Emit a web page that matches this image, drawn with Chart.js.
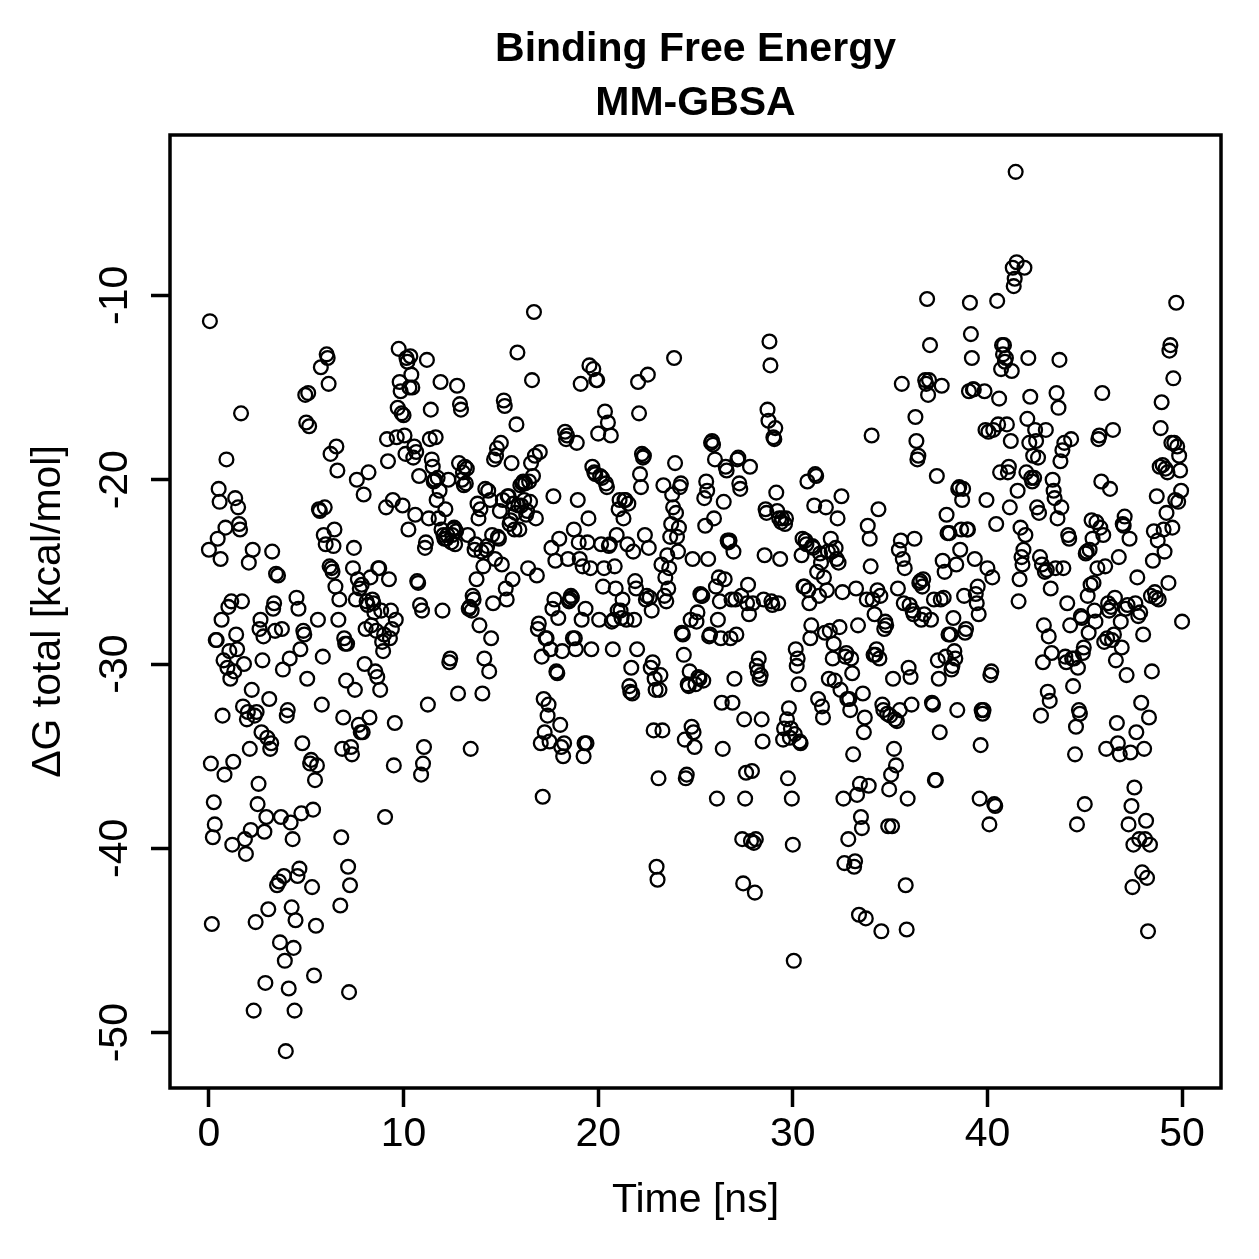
<!DOCTYPE html>
<html>
<head>
<meta charset="utf-8">
<script src="https://cdn.jsdelivr.net/npm/chart.js@4/dist/chart.umd.min.js"></script>
<style>
  body { margin: 0; background: #fff; }
  #wrap { width: 1259px; height: 1259px; }
</style>
</head>
<body>
<div id="wrap"><canvas id="mmgbsa" width="1259" height="1259"></canvas></div>
<script>
// frames are every 0.05 ns, 0 .. 50 ns
var timeStep = 0.05;

// dG total (kcal/mol) per frame (about one line per ns)
var dgTotal = [
	-23.8,-11.4,-35.4,-44.1,-39.4,-37.5,-38.7,-28.7,-28.7,-23.2,-20.5,-21.2,-24.3,-27.6,-32.8,-29.8,-36.0,-22.6,-18.9,-30.2,
	-26.9,-29.3,-30.8,-26.6,-39.8,-35.3,-30.4,-21.0,-28.4,-29.2,-21.5,-22.4,-22.7,-16.4,-26.6,-32.3,-30.0,-39.5,-40.3,-33.0,-32.6,
	-24.5,-34.6,-39.0,-31.4,-23.8,-48.8,-32.8,-44.0,-32.6,-37.6,-36.5,-28.1,-27.6,-33.7,-29.8,-28.5,-39.1,-47.3,-38.3,-34.0,
	-43.3,-31.9,-34.6,-34.3,-23.9,-27.0,-26.7,-28.2,-25.1,-42.0,-25.2,-41.8,-45.1,-38.3,-28.1,-30.3,-41.5,-46.1,-51.0,-32.8,-32.5,
	-47.6,-29.7,-38.6,-43.2,-39.5,-45.4,-48.8,-43.9,-26.4,-41.5,-27.0,-41.1,-29.2,-38.1,-34.3,-28.2,-28.4,-15.4,-16.9,-30.8,
	-15.3,-17.1,-35.4,-35.2,-42.1,-37.9,-46.9,-36.3,-44.2,-35.5,-27.6,-21.6,-21.7,-13.9,-32.2,-29.6,-23.0,-21.5,-23.5,-13.2,-13.4,
	-14.8,-24.7,-18.6,-24.8,-25.0,-23.6,-22.7,-25.8,-18.2,-19.5,-27.6,-26.5,-43.1,-39.4,-34.6,-32.9,-28.6,-28.9,-30.9,-28.9,
	-41.0,-47.8,-42.0,-34.5,-34.9,-24.8,-23.7,-31.4,-26.5,-20.0,-25.4,-33.3,-25.9,-33.7,-25.7,-33.7,-20.8,-30.0,-28.1,-26.6,-26.8,
	-19.6,-32.9,-25.3,-27.9,-26.5,-26.7,-27.2,-30.4,-28.2,-30.7,-24.8,-24.8,-31.4,-27.1,-28.8,-29.3,-28.4,-38.3,-21.5,-17.8,
	-19.0,-25.4,-28.6,-27.1,-28.1,-21.1,-35.5,-33.2,-27.6,-17.7,-16.1,-12.9,-14.7,-15.2,-16.4,-21.4,-16.5,-17.6,-18.6,-13.4,-13.6,
	-22.7,-15.0,-13.3,-14.3,-15.0,-18.8,-18.2,-21.9,-18.5,-25.5,-25.6,-19.8,-26.8,-36.0,-27.1,-35.4,-34.5,-23.7,-23.4,-13.5,
	-32.2,-22.1,-17.8,-16.2,-18.9,-19.3,-20.1,-20.0,-17.7,-21.1,-19.9,-22.1,-20.6,-14.7,-22.7,-27.1,-23.0,-23.2,-21.6,-23.2,-23.0,
	-20.0,-29.9,-29.7,-23.4,-23.0,-22.7,-22.6,-23.5,-22.8,-14.9,-31.6,-19.1,-15.9,-16.2,-20.0,-19.6,-20.3,-19.3,-20.2,-19.4,
	-23.0,-27.0,-26.9,-34.6,-27.1,-26.3,-26.5,-23.8,-23.5,-25.4,-21.3,-22.1,-27.9,-21.6,-23.9,-31.6,-24.7,-29.7,-20.5,-23.8,-23.6,
	-20.6,-30.4,-21.1,-28.6,-23.0,-26.7,-18.9,-24.3,-18.7,-18.3,-23.1,-23.2,-21.7,-18.0,-24.6,-21.1,-15.7,-16.0,-25.9,-26.5,
	-20.9,-20.9,-22.4,-22.2,-19.1,-25.4,-21.3,-22.7,-21.8,-17.0,-13.1,-21.4,-22.7,-20.3,-21.4,-20.2,-20.1,-21.1,-20.2,-21.9,-21.7,
	-24.8,-20.1,-21.2,-19.1,-14.6,-19.8,-10.9,-18.7,-22.1,-25.2,-28.1,-27.8,-18.5,-34.3,-29.6,-37.2,-31.9,-33.7,-28.6,-28.6,
	-32.8,-32.2,-34.2,-29.2,-23.7,-27.0,-20.9,-26.5,-24.4,-30.4,-30.5,-27.5,-23.2,-33.3,-34.5,-29.3,-35.0,-34.3,-17.4,-17.8,-17.6,
	-24.3,-26.6,-26.5,-26.3,-26.4,-28.6,-22.7,-28.6,-29.2,-18.0,-21.1,-23.4,-24.3,-14.8,-27.6,-24.7,-35.0,-34.3,-27.0,-34.3,
	-23.4,-22.1,-13.8,-24.8,-29.2,-19.3,-14.0,-19.6,-19.7,-14.6,-14.6,-17.5,-27.6,-19.8,-23.5,-19.9,-25.8,-24.8,-16.3,-20.2,-20.4,
	-16.9,-23.6,-23.5,-17.6,-27.7,-29.2,-27.6,-24.7,-25.9,-23.0,-27.1,-21.6,-21.1,-27.1,-27.5,-26.5,-22.1,-21.1,-21.1,-27.6,
	-23.5,-21.3,-31.2,-31.5,-30.2,-31.6,-23.9,-27.6,-25.5,-25.9,-29.2,-14.7,-16.4,-19.7,-20.4,-18.6,-18.8,-18.7,-23.0,-26.5,-26.3,
	-14.3,-23.7,-26.4,-30.2,-27.1,-29.9,-33.6,-30.8,-31.4,-41.0,-41.7,-36.2,-31.4,-30.6,-24.6,-33.6,-20.3,-26.3,-25.3,-26.6,
	-24.1,-25.9,-24.8,-23.1,-22.4,-20.8,-21.5,-13.4,-19.1,-21.8,-23.1,-23.9,-22.6,-20.4,-20.2,-28.3,-28.4,-29.5,-34.1,-36.2,-36.0,
	-31.1,-31.2,-30.4,-27.6,-33.4,-24.3,-33.7,-34.5,-31.1,-27.7,-27.2,-30.7,-30.8,-26.2,-26.3,-26.3,-30.9,-21.0,-22.5,-20.1,
	-20.6,-24.3,-28.5,-28.4,-18.0,-17.9,-18.1,-22.1,-18.9,-25.8,-37.3,-27.6,-25.3,-26.6,-28.6,-32.1,-34.6,-21.2,-25.4,-19.3,-19.5,
	-23.3,-23.4,-23.3,-28.6,-26.5,-32.1,-23.9,-30.8,-26.5,-28.4,-18.9,-18.8,-20.2,-20.5,-26.3,-39.5,-41.9,-33.0,-37.3,-35.9,
	-26.7,-25.7,-27.3,-19.3,-39.6,-35.8,-26.7,-39.7,-42.4,-39.5,-30.1,-30.4,-29.7,-30.8,-30.6,-33.0,-34.2,-26.5,-24.1,-21.6,-21.8,
	-16.2,-16.8,-12.5,-13.8,-26.6,-26.8,-17.7,-17.8,-17.2,-20.7,-21.7,-26.7,-22.1,-24.3,-22.3,-22.1,-34.1,-33.5,-22.4,-22.1,
	-33.0,-36.2,-32.4,-34.0,-33.5,-37.3,-39.8,-46.1,-33.8,-29.2,-30.1,-29.7,-31.1,-34.2,-34.3,-24.1,-23.2,-25.8,-25.8,-23.3,-23.5,
	-20.1,-26.0,-26.7,-28.6,-27.9,-23.6,-23.7,-21.4,-19.7,-19.8,-25.0,-31.9,-26.3,-24.0,-24.5,-32.3,-32.9,-25.3,-28.3,-21.5,
	-26.0,-23.9,-30.8,-28.2,-23.2,-23.9,-29.7,-28.9,-30.9,-23.7,-24.3,-22.1,-24.5,-28.0,-31.4,-20.9,-26.1,-37.3,-40.8,-29.6,-29.4,
	-31.9,-39.5,-31.9,-32.5,-29.7,-30.5,-34.9,-41.0,-40.7,-25.9,-37.1,-27.9,-43.6,-36.5,-38.3,-38.9,-31.6,-33.7,-32.9,-43.8,
	-26.5,-22.5,-36.6,-23.2,-24.7,-17.6,-26.5,-29.5,-27.3,-29.5,-29.2,-26.0,-21.6,-29.7,-26.3,-44.5,-32.2,-32.5,-28.1,-27.7,-27.9,
	-32.7,-38.8,-36.8,-32.8,-36.0,-38.8,-30.8,-34.6,-33.0,-35.5,-33.1,-25.9,-23.8,-32.5,-23.3,-14.8,-24.3,-26.7,-24.8,-42.0,
	-44.4,-37.3,-30.2,-26.8,-30.7,-32.2,-27.1,-27.3,-23.2,-16.6,-17.9,-18.9,-18.7,-25.6,-25.5,-27.6,-25.8,-25.4,-27.3,-14.6,-14.8,
	-10.2,-15.4,-14.6,-12.7,-27.6,-32.1,-32.2,-26.5,-36.3,-36.3,-19.8,-29.8,-30.8,-33.7,-26.5,-14.9,-24.4,-26.4,-25.0,-29.6,
	-21.9,-22.9,-28.4,-22.9,-28.4,-30.3,-30.1,-27.5,-29.3,-29.7,-24.6,-32.5,-20.5,-20.4,-23.8,-22.7,-21.1,-20.5,-26.3,-28.3,-28.1,
	-22.7,-22.7,-15.2,-10.4,-12.1,-13.4,-15.1,-15.1,-24.3,-26.2,-26.7,-25.8,-27.3,-37.3,-34.4,-32.5,-32.7,-32.5,-15.2,-17.3,
	-21.1,-24.8,-17.4,-38.7,-30.6,-30.4,-25.3,-17.3,-37.6,-37.7,-22.4,-10.3,-17.0,-15.6,-19.6,-14.0,-12.7,-13.2,-12.7,-13.6,-13.4,
	-17.0,-19.6,-19.3,-21.5,-17.9,-14.1,-8.5,-9.5,-9.1,-3.3,-8.2,-20.6,-26.6,-25.4,-22.6,-24.2,-24.6,-23.8,-8.5,-23.0,
	-19.6,-16.7,-13.4,-18.0,-15.5,-19.9,-20.1,-18.7,-19.9,-17.3,-17.9,-21.5,-18.8,-21.8,-24.2,-32.8,-24.6,-29.9,-27.9,-25.0,
	-17.3,-24.9,-31.5,-28.5,-32.0,-25.9,-29.4,-20.0,-20.6,-21.0,-24.8,-15.3,-22.1,-16.1,-13.5,-19.0,-21.5,-18.4,-24.8,-18.0,
	-29.6,-29.9,-26.7,-23.0,-23.2,-27.9,-17.8,-29.7,-31.2,-29.7,-34.9,-33.4,-38.7,-30.2,-32.5,-32.7,-27.4,-27.5,-29.4,-29.1,
	-37.6,-24.0,-23.9,-26.3,-28.3,-23.8,-25.7,-22.2,-23.2,-25.6,-27.1,-27.7,-22.3,-24.8,-17.8,-17.6,-22.6,-20.1,-15.3,-23.0,
	-28.8,-24.7,-34.6,-28.6,-26.7,-27.1,-20.5,-26.9,-28.7,-17.3,-28.4,-26.4,-29.8,-33.2,-34.3,-24.2,-34.9,-27.7,-29.1,-22.4,
	-22.5,-22.0,-27.0,-30.6,-26.8,-38.7,-23.2,-34.8,-37.7,-42.1,-39.8,-36.7,-26.7,-33.7,-25.3,-27.4,-39.5,-27.2,-32.1,-41.3,
	-28.4,-34.6,-39.5,-38.5,-41.6,-44.5,-32.9,-39.8,-26.3,-30.4,-24.4,-22.8,-26.1,-26.4,-20.9,-23.3,-26.5,-19.3,-17.2,-15.8,
	-19.2,-22.7,-23.9,-19.4,-21.8,-19.6,-25.6,-13.0,-12.7,-18.0,-22.6,-14.5,-18.0,-21.1,-10.4,-18.2,-21.2,-18.7,-19.5,-20.6,
	-27.7
];

var xTicks = [0, 10, 20, 30, 40, 50];
var yTicks = [-50, -40, -30, -20, -10];
var titleLines = ['Binding Free Energy', 'MM-GBSA'];

var fam = '"Liberation Sans", Arial, Helvetica, sans-serif';
var fontPx = 41;

var points = dgTotal.map(function (v, i) {
	return { x: +(i * timeStep).toFixed(2), y: v };
});

// R style box + two line main title centred on the plot region
var rBox = {
	id: 'rBox',
	afterDraw: function (chart) {
		var ctx = chart.ctx, a = chart.chartArea;
		ctx.save();
		ctx.strokeStyle = '#000';
		ctx.lineWidth = 3.5;
		ctx.strokeRect(a.left, a.top, a.right - a.left, a.bottom - a.top);
		ctx.fillStyle = '#000';
		ctx.textAlign = 'center';
		ctx.textBaseline = 'alphabetic';
		ctx.font = 'bold ' + fontPx + 'px ' + fam;
		var cx = (a.left + a.right) / 2;
		ctx.fillText(titleLines[0], cx, 61);
		ctx.fillText(titleLines[1], cx, 115);
		ctx.restore();
	}
};

var tickGrid = {
	display: true,
	drawOnChartArea: false,
	drawTicks: true,
	tickLength: 19,
	tickWidth: 3.5,
	tickColor: '#000'
};

new Chart(document.getElementById('mmgbsa'), {
	type: 'scatter',
	data: {
		datasets: [{
			label: 'dG total',
			data: points,
			pointStyle: 'circle',
			pointRadius: 6.9,
			pointBorderWidth: 2.3,
			pointBorderColor: '#000',
			pointBackgroundColor: 'rgba(0,0,0,0)',
			showLine: false
		}]
	},
	options: {
		responsive: false,
		animation: false,
		events: [],
		layout: { padding: { top: 135, right: 38, bottom: 0, left: 0 } },
		plugins: {
			legend: { display: false },
			tooltip: { enabled: false },
			title: { display: false }
		},
		scales: {
			x: {
				type: 'linear',
				min: -2,
				max: 52,
				afterBuildTicks: function (s) { s.ticks = xTicks.map(function (v) { return { value: v }; }); },
				afterFit: function (s) { s.height = 171; },
				grid: tickGrid,
				border: { display: false },
				ticks: {
					color: '#000',
					font: { family: fam, size: fontPx },
					padding: 3,
					maxRotation: 0,
					autoSkip: false,
					callback: function (v) { return String(v); }
				},
				title: {
					display: true,
					text: 'Time [ns]',
					color: '#000',
					font: { family: fam, size: fontPx },
					padding: { top: 0, bottom: 34 }
				}
			},
			y: {
				type: 'linear',
				min: -53.0,
				max: -1.3,
				afterBuildTicks: function (s) { s.ticks = yTicks.map(function (v) { return { value: v }; }); },
				afterFit: function (s) { s.width = 170; },
				grid: tickGrid,
				border: { display: false },
				ticks: {
					color: '#000',
					font: { family: fam, size: fontPx },
					minRotation: 90,
					maxRotation: 90,
					crossAlign: 'center',
					padding: 6,
					autoSkip: false,
					callback: function (v) { return String(v); }
				},
				title: {
					display: true,
					text: '\u0394G total [kcal/mol]',
					color: '#000',
					font: { family: fam, size: fontPx },
					padding: { top: 24, bottom: 0 }
				}
			}
		}
	},
	plugins: [rBox]
});
</script>
</body>
</html>
